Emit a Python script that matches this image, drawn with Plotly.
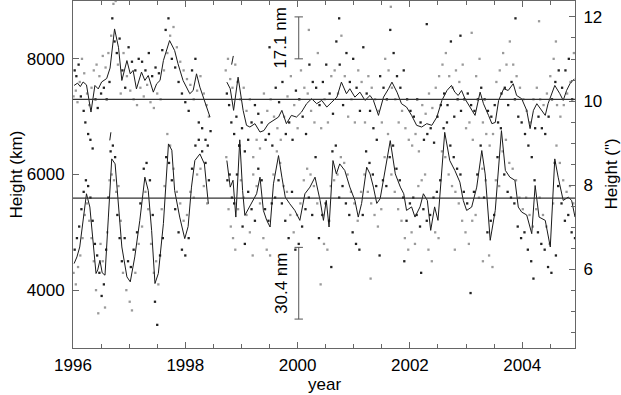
import plotly.graph_objects as go

# ---------------- data ----------------
x_range = [1996, 2004.94]
y_range_km = [3000, 9000]
km_per_arcsec = 727
mean_km = [7300, 5590]
scale_bar_year = 2000.02
scale_bar_km = [[8000, 8725], [3500, 4740]]
scale_bar_labels = ["17.1 nm", "30.4 nm"]

# smoothed curve, upper feature (year, km); None = gap
up_line = [
    (1996.02, 7540), (1996.08, 7580), (1996.13, 7520), (1996.18, 7600), (1996.24, 7550),
    (1996.32, 7080), (1996.39, 7540), (1996.45, 7480), (1996.51, 7600), (1996.6, 7660),
    (1996.66, 7840), (1996.74, 8517), (1996.81, 8200), (1996.87, 7626), (1996.96, 7970),
    (1997.02, 7740), (1997.07, 7800), (1997.13, 7480), (1997.22, 7770), (1997.28, 7626),
    (1997.34, 7712), (1997.43, 7424), (1997.49, 7569), (1997.55, 7626), (1997.61, 7970),
    (1997.72, 8316), (1997.81, 8143), (1997.87, 7914), (1997.96, 7626), (1998.08, 7397),
    (1998.14, 7453), (1998.2, 7741), (1998.26, 7510), (1998.38, 7166), (1998.44, 6993),
    (None, None),
    (1998.825, 7900), (1998.855, 8050),
    (None, None),
    (1998.74, 7597), (1998.8, 7483), (1998.86, 7109), (1998.94, 7683), (1999.03, 7109),
    (1999.09, 6850), (1999.15, 6821), (1999.24, 6879), (1999.33, 6734), (1999.4, 6760),
    (1999.48, 6879), (1999.57, 6936), (1999.66, 6993), (1999.72, 7109), (1999.8, 6879),
    (1999.89, 7022), (1999.98, 6993), (2000.07, 7080), (2000.16, 7224), (2000.25, 7310),
    (2000.34, 7224), (2000.43, 7281), (2000.52, 7166), (2000.61, 7252), (2000.7, 7338),
    (2000.78, 7597), (2000.87, 7397), (2000.93, 7483), (2001.02, 7338), (2001.11, 7424),
    (2001.2, 7281), (2001.29, 7367), (2001.35, 7281), (2001.44, 7022), (2001.53, 7338),
    (2001.62, 7483), (2001.68, 7597), (2001.77, 7424), (2001.85, 7224), (2001.94, 7166),
    (2002.03, 7022), (2002.12, 6850), (2002.21, 6821), (2002.3, 6879), (2002.39, 6850),
    (2002.48, 6993), (2002.57, 7281), (2002.66, 7453), (2002.74, 7540), (2002.8, 7424),
    (2002.86, 7367), (2002.92, 7453), (2002.98, 7310), (2003.07, 7166), (2003.16, 7022),
    (2003.25, 7424), (2003.31, 7224), (2003.4, 7022), (2003.46, 6879), (2003.52, 6900),
    (2003.58, 7281), (2003.67, 7483), (2003.75, 7453), (2003.84, 7569), (2003.9, 7367),
    (2003.99, 7310), (2004.08, 7109), (2004.14, 6793), (2004.2, 7109), (2004.26, 7224),
    (2004.35, 7109), (2004.41, 7022), (2004.46, 7224), (2004.52, 7397), (2004.58, 7540),
    (2004.67, 7397), (2004.73, 7281), (2004.79, 7453), (2004.85, 7569), (2004.93, 7655),
]

# smoothed curve, lower feature (year, km); None = gap
lo_line = [
    (1996.02, 4460), (1996.07, 4575), (1996.12, 4747), (1996.18, 5264), (1996.24, 5667),
    (1996.3, 5437), (1996.36, 4805), (1996.41, 4288), (1996.44, 4350), (1996.48, 4517),
    (1996.52, 4300), (1996.57, 4259), (1996.63, 5264), (1996.69, 6270), (1996.75, 6184),
    (1996.8, 5552), (1996.87, 4747), (1996.96, 4230), (1997.02, 4144), (1997.1, 4575),
    (1997.19, 5207), (1997.28, 5954), (1997.34, 5724), (1997.4, 5034), (1997.46, 4115),
    (1997.52, 4290), (1997.61, 5150), (1997.7, 6529), (1997.76, 6420), (1997.81, 5724),
    (1997.9, 5264), (1997.99, 4891), (1998.05, 5100), (1998.11, 5782), (1998.17, 6241),
    (1998.26, 6356), (1998.34, 6184), (1998.41, 5494),
    (None, None),
    (1996.655, 6590), (1996.675, 6730),
    (None, None),
    (1998.74, 6241), (1998.8, 5782), (1998.85, 5900), (1998.9, 5264), (1998.97, 6600),
    (1999.02, 5724), (1999.06, 5293), (1999.12, 5400), (1999.21, 5552), (1999.27, 5667),
    (1999.33, 5954), (1999.39, 5379), (1999.45, 5207), (1999.51, 5092), (1999.57, 5839),
    (1999.66, 6327), (1999.72, 5954), (1999.78, 5609), (1999.86, 5494), (1999.95, 5380),
    (2000.04, 5207), (2000.13, 5667), (2000.22, 5782), (2000.31, 5954), (2000.4, 5552),
    (2000.46, 5207), (2000.51, 5552), (2000.56, 5092), (2000.63, 6241), (2000.69, 6010),
    (2000.75, 6184), (2000.84, 6070), (2000.93, 5782), (2001.02, 5552), (2001.08, 5264),
    (2001.14, 5500), (2001.23, 6126), (2001.29, 6010), (2001.35, 5782), (2001.41, 5500),
    (2001.47, 5581), (2001.56, 6069), (2001.65, 6586), (2001.74, 6010), (2001.83, 5782),
    (2001.89, 5667), (2001.94, 5379), (2002.03, 5440), (2002.09, 5264), (2002.18, 5440),
    (2002.24, 5667), (2002.31, 5552), (2002.37, 5034), (2002.44, 5440), (2002.5, 5207),
    (2002.62, 6729), (2002.71, 6241), (2002.8, 6070), (2002.89, 5868), (2002.95, 5552),
    (2003.01, 5379), (2003.1, 5437), (2003.19, 5782), (2003.28, 6414), (2003.34, 6010),
    (2003.43, 4862), (2003.52, 5380), (2003.63, 6758), (2003.7, 6070), (2003.78, 5954),
    (2003.87, 5900), (2003.93, 5437), (2003.99, 5350), (2004.08, 5300), (2004.11, 5207),
    (2004.17, 4977), (2004.23, 5810), (2004.3, 5264), (2004.41, 5207), (2004.5, 4747),
    (2004.58, 6270), (2004.64, 5954), (2004.73, 5552), (2004.82, 5609), (2004.88, 5552),
    (2004.94, 5264),
]

# individual measurements, upper feature (year, km)
up_dots = [
    (1996.01, 7350), (1996.03, 7800), (1996.05, 7450), (1996.06, 7700), (1996.08, 7250),
    (1996.1, 7900), (1996.12, 7600), (1996.14, 7350), (1996.16, 8000), (1996.19, 7100),
    (1996.2, 7750), (1996.22, 6900), (1996.25, 7400), (1996.27, 6700), (1996.29, 7200),
    (1996.31, 6600), (1996.33, 7500), (1996.35, 6450), (1996.37, 7800), (1996.4, 7300),
    (1996.42, 7900), (1996.44, 7150), (1996.47, 7700), (1996.5, 7400), (1996.53, 8050),
    (1996.55, 7500), (1996.58, 7850), (1996.6, 7300), (1996.63, 8100), (1996.65, 7600),
    (1996.68, 8400), (1996.7, 8700), (1996.72, 8950), (1996.74, 8300), (1996.76, 9000),
    (1996.78, 8100), (1996.8, 7900), (1996.83, 8350), (1996.85, 7400), (1996.88, 7800),
    (1996.9, 8100), (1996.93, 7500), (1996.96, 7700), (1996.99, 8200), (1997.02, 7450),
    (1997.05, 7950), (1997.08, 7300), (1997.11, 7800), (1997.14, 7200), (1997.17, 8000),
    (1997.2, 7500), (1997.23, 7950), (1997.26, 7350), (1997.29, 7800), (1997.32, 7550),
    (1997.35, 8100), (1997.38, 7250), (1997.41, 7700), (1997.44, 7150), (1997.47, 7850),
    (1997.5, 7400), (1997.53, 7750), (1997.56, 7300), (1997.59, 8150), (1997.62, 7800),
    (1997.65, 8500), (1997.68, 8100), (1997.7, 8700), (1997.73, 8400), (1997.76, 8000),
    (1997.79, 8550), (1997.82, 7850), (1997.85, 8200), (1997.88, 7600), (1997.91, 7950),
    (1997.94, 7400), (1997.97, 7800), (1998.0, 7250), (1998.03, 7650), (1998.06, 7100),
    (1998.09, 7550), (1998.12, 7800), (1998.15, 7300), (1998.18, 8000), (1998.21, 7450),
    (1998.24, 6900), (1998.27, 7700), (1998.3, 6800), (1998.33, 7400), (1998.36, 6600),
    (1998.38, 7200), (1998.4, 6500), (1998.42, 7000), (1998.45, 6750),
    (1998.72, 7800), (1998.74, 7400), (1998.76, 8000), (1998.78, 7200), (1998.8, 7650),
    (1998.82, 6900), (1998.84, 7500), (1998.87, 6700), (1998.89, 7900), (1998.91, 7000),
    (1998.93, 7600), (1998.96, 6500), (1998.98, 7300), (1999.01, 6800), (1999.04, 7500),
    (1999.06, 6400), (1999.09, 7100), (1999.12, 6600), (1999.15, 7300), (1999.18, 6900),
    (1999.21, 6300), (1999.24, 7200), (1999.27, 6600), (1999.3, 7050), (1999.33, 6450),
    (1999.36, 6900), (1999.4, 7400), (1999.43, 6600), (1999.46, 7100), (1999.49, 6700),
    (1999.52, 7300), (1999.55, 6500), (1999.58, 7000), (1999.61, 7500), (1999.64, 6800),
    (1999.67, 7250), (1999.7, 6600), (1999.73, 7600), (1999.76, 7000), (1999.79, 6700),
    (1999.82, 7350), (1999.85, 6900), (1999.88, 7700), (1999.91, 6600), (1999.94, 7200),
    (1999.97, 7450), (2000.0, 6800), (2000.03, 7300), (2000.06, 7800), (2000.09, 7000),
    (2000.12, 7500), (2000.15, 6700), (2000.18, 7400), (2000.21, 7900), (2000.24, 7100),
    (2000.27, 7600), (2000.3, 6900), (2000.33, 7500), (2000.36, 8100), (2000.39, 7200),
    (2000.42, 6800), (2000.45, 7600), (2000.48, 7300), (2000.51, 7900), (2000.54, 6900),
    (2000.57, 7400), (2000.6, 7700), (2000.63, 7050), (2000.66, 7800), (2000.69, 8300),
    (2000.72, 7400), (2000.75, 7900), (2000.78, 8400), (2000.81, 7200), (2000.84, 7700),
    (2000.87, 8100), (2000.9, 7000), (2000.93, 7600), (2000.96, 7300), (2000.99, 8000),
    (2001.02, 6900), (2001.05, 7500), (2001.08, 7800), (2001.11, 7100), (2001.14, 7600),
    (2001.17, 8200), (2001.2, 6900), (2001.23, 7400), (2001.26, 7700), (2001.29, 7100),
    (2001.32, 7500), (2001.35, 6800), (2001.38, 7300), (2001.41, 6600), (2001.44, 7100),
    (2001.47, 7700), (2001.5, 6900), (2001.53, 7500), (2001.56, 8000), (2001.59, 7300),
    (2001.62, 7800), (2001.65, 8500), (2001.68, 7500), (2001.71, 8100), (2001.74, 7300),
    (2001.77, 7700), (2001.8, 6900), (2001.83, 7500), (2001.86, 7100), (2001.89, 7800),
    (2001.92, 6800), (2001.95, 7300), (2001.98, 6600), (2002.01, 7100), (2002.04, 6500),
    (2002.07, 7000), (2002.1, 6700), (2002.13, 7300), (2002.16, 6400), (2002.19, 6900),
    (2002.22, 7200), (2002.25, 6600), (2002.28, 7050), (2002.31, 6700), (2002.34, 7400),
    (2002.37, 6800), (2002.4, 7150), (2002.43, 6550), (2002.46, 7500), (2002.49, 7000),
    (2002.52, 7700), (2002.55, 7200), (2002.58, 7900), (2002.61, 7400), (2002.64, 8100),
    (2002.67, 7200), (2002.7, 7700), (2002.73, 8300), (2002.76, 7500), (2002.79, 7000),
    (2002.82, 7800), (2002.85, 7300), (2002.88, 7600), (2002.91, 7100), (2002.94, 7900),
    (2002.97, 7300), (2003.0, 6800), (2003.03, 7400), (2003.06, 6900), (2003.09, 7200),
    (2003.12, 6600), (2003.15, 7100), (2003.18, 7700), (2003.21, 7300), (2003.24, 8000),
    (2003.27, 7500), (2003.3, 6900), (2003.33, 7300), (2003.36, 6700), (2003.39, 7100),
    (2003.42, 6500), (2003.45, 7000), (2003.48, 6700), (2003.51, 7200), (2003.54, 7600),
    (2003.57, 6900), (2003.6, 7800), (2003.63, 7400), (2003.66, 8100), (2003.69, 7500),
    (2003.72, 7900), (2003.75, 7200), (2003.78, 8300), (2003.81, 7600), (2003.84, 7900),
    (2003.87, 7300), (2003.9, 7700), (2003.93, 7000), (2003.96, 7500), (2003.99, 6900),
    (2004.02, 7300), (2004.05, 6700), (2004.08, 7100), (2004.11, 6500), (2004.14, 6900),
    (2004.17, 6300), (2004.2, 7300), (2004.23, 6800), (2004.26, 7500), (2004.29, 7000),
    (2004.32, 7300), (2004.35, 6800), (2004.38, 7200), (2004.41, 6700), (2004.44, 7400),
    (2004.47, 7000), (2004.5, 7700), (2004.53, 7300), (2004.56, 8000), (2004.59, 7600),
    (2004.62, 7200), (2004.65, 7800), (2004.68, 7000), (2004.71, 7500), (2004.74, 7200),
    (2004.77, 7800), (2004.8, 7400), (2004.83, 8000), (2004.86, 7600), (2004.89, 7300),
    (2004.92, 8100),
    (2000.74, 8700), (2001.66, 8900), (2002.3, 8600), (2003.1, 8450), (2003.88, 8700),
    (2004.3, 8650), (1999.5, 8200), (2000.2, 8500), (2002.9, 8400), (2004.6, 8300),
]

# individual measurements, lower feature (year, km)
lo_dots = [
    (1996.01, 4300), (1996.03, 4700), (1996.05, 4100), (1996.07, 4900), (1996.09, 4400),
    (1996.11, 5100), (1996.13, 4600), (1996.15, 5400), (1996.17, 4900), (1996.19, 5700),
    (1996.21, 5300), (1996.23, 5900), (1996.25, 5500), (1996.27, 5800), (1996.29, 5200),
    (1996.31, 5600), (1996.33, 4900), (1996.35, 5200), (1996.37, 4500), (1996.39, 4800),
    (1996.41, 4000), (1996.43, 4600), (1996.45, 3600), (1996.47, 4300), (1996.49, 4800),
    (1996.51, 3900), (1996.53, 4500), (1996.55, 4100), (1996.57, 3700), (1996.59, 4700),
    (1996.61, 5000), (1996.63, 5600), (1996.65, 5900), (1996.67, 6400), (1996.69, 6000),
    (1996.71, 6500), (1996.73, 5900), (1996.75, 6300), (1996.77, 5700), (1996.79, 5300),
    (1996.81, 5800), (1996.83, 4900), (1996.85, 5200), (1996.87, 4500), (1996.89, 4300),
    (1996.92, 4900), (1996.95, 4000), (1996.98, 4500), (1997.01, 3800), (1997.03, 4400),
    (1997.05, 3650), (1997.08, 4700), (1997.11, 4300), (1997.14, 5000), (1997.17, 4800),
    (1997.2, 5500), (1997.23, 5100), (1997.26, 6100), (1997.29, 5700), (1997.31, 6200),
    (1997.34, 5400), (1997.37, 5900), (1997.39, 4800), (1997.42, 5300), (1997.44, 4300),
    (1997.46, 3800), (1997.48, 4500), (1997.5, 3400), (1997.52, 4100), (1997.55, 4600),
    (1997.58, 5400), (1997.6, 4900), (1997.63, 5800), (1997.66, 6300), (1997.68, 6700),
    (1997.71, 6200), (1997.73, 6500), (1997.76, 5900), (1997.79, 6100), (1997.82, 5400),
    (1997.85, 5700), (1997.88, 5000), (1997.91, 5500), (1997.94, 4700), (1997.97, 5200),
    (1998.0, 4600), (1998.03, 5300), (1998.06, 4900), (1998.09, 5700), (1998.12, 6100),
    (1998.15, 5600), (1998.18, 6500), (1998.21, 6000), (1998.24, 6600), (1998.27, 6100),
    (1998.3, 6400), (1998.33, 5800), (1998.36, 6200), (1998.39, 5500), (1998.42, 5900),
    (1998.73, 6300), (1998.75, 5900), (1998.77, 5400), (1998.79, 6000), (1998.81, 5100),
    (1998.83, 5600), (1998.85, 4900), (1998.87, 5500), (1998.89, 4700), (1998.92, 6000),
    (1998.94, 5400), (1998.96, 6500), (1998.99, 5900), (1999.02, 5100), (1999.04, 5600),
    (1999.06, 4800), (1999.09, 5300), (1999.12, 5700), (1999.15, 5000), (1999.18, 5400),
    (1999.21, 6000), (1999.24, 5200), (1999.27, 5800), (1999.3, 6100), (1999.33, 5500),
    (1999.36, 5900), (1999.39, 4900), (1999.42, 5400), (1999.45, 4700), (1999.48, 5200),
    (1999.51, 4600), (1999.54, 5500), (1999.57, 6000), (1999.6, 5600), (1999.63, 6400),
    (1999.66, 5900), (1999.69, 6200), (1999.72, 5500), (1999.75, 5800), (1999.78, 5200),
    (1999.81, 5700), (1999.84, 4900), (1999.87, 5300), (1999.9, 5700), (1999.93, 5000),
    (1999.96, 4700), (1999.99, 5300), (2000.02, 4800), (2000.05, 5500), (2000.08, 5100),
    (2000.11, 5900), (2000.14, 5400), (2000.17, 6100), (2000.2, 5600), (2000.23, 6000),
    (2000.26, 5300), (2000.29, 5800), (2000.32, 6300), (2000.35, 5500), (2000.38, 4900),
    (2000.41, 4100), (2000.44, 5300), (2000.47, 4800), (2000.5, 5500), (2000.53, 4700),
    (2000.56, 5200), (2000.59, 5800), (2000.62, 6400), (2000.65, 5900), (2000.68, 6500),
    (2000.71, 6000), (2000.74, 5600), (2000.77, 6300), (2000.8, 5800), (2000.83, 6200),
    (2000.86, 5500), (2000.89, 6000), (2000.92, 5300), (2000.95, 5700), (2000.98, 5000),
    (2001.01, 5500), (2001.04, 4800), (2001.07, 5200), (2001.1, 4700), (2001.13, 5700),
    (2001.16, 5300), (2001.19, 6000), (2001.22, 6400), (2001.25, 5700), (2001.28, 6200),
    (2001.31, 5500), (2001.34, 6000), (2001.37, 5300), (2001.4, 5800), (2001.43, 5100),
    (2001.46, 4600), (2001.49, 5400), (2001.52, 5900), (2001.55, 6300), (2001.58, 5800),
    (2001.61, 6700), (2001.64, 6300), (2001.67, 6000), (2001.7, 6500), (2001.73, 5700),
    (2001.76, 6100), (2001.79, 5400), (2001.82, 5900), (2001.85, 5200), (2001.88, 5600),
    (2001.91, 4900), (2001.94, 5200), (2001.97, 4700), (2002.0, 5500), (2002.03, 5000),
    (2002.06, 5600), (2002.09, 4800), (2002.12, 5300), (2002.15, 5800), (2002.18, 5100),
    (2002.21, 5900), (2002.24, 5400), (2002.27, 6000), (2002.3, 5200), (2002.33, 4700),
    (2002.36, 5300), (2002.39, 4500), (2002.42, 5600), (2002.45, 5000), (2002.48, 5700),
    (2002.51, 4900), (2002.54, 5900), (2002.57, 6400), (2002.6, 6800), (2002.63, 6300),
    (2002.66, 6900), (2002.69, 6000), (2002.72, 6500), (2002.75, 5800), (2002.78, 6300),
    (2002.81, 5700), (2002.84, 6100), (2002.87, 5500), (2002.9, 6000), (2002.93, 5200),
    (2002.96, 5700), (2002.99, 5000), (2003.02, 5500), (2003.05, 4800), (2003.08, 3950),
    (2003.11, 5200), (2003.14, 5700), (2003.17, 5300), (2003.2, 6000), (2003.23, 5600),
    (2003.26, 6500), (2003.29, 6100), (2003.32, 5600), (2003.35, 5900), (2003.38, 5000),
    (2003.41, 4600), (2003.44, 5200), (2003.47, 4400), (2003.5, 5300), (2003.53, 5900),
    (2003.56, 6300), (2003.59, 5800), (2003.62, 6800), (2003.65, 6400), (2003.68, 6000),
    (2003.71, 6600), (2003.74, 5700), (2003.77, 6200), (2003.8, 5600), (2003.83, 6100),
    (2003.86, 5500), (2003.89, 5900), (2003.92, 5100), (2003.95, 5600), (2003.98, 4900),
    (2004.01, 5400), (2004.04, 5000), (2004.07, 5600), (2004.1, 4700), (2004.13, 5300),
    (2004.16, 4500), (2004.19, 5100), (2004.22, 5900), (2004.25, 5400), (2004.28, 5000),
    (2004.31, 5600), (2004.34, 4800), (2004.37, 5300), (2004.4, 4700), (2004.43, 5100),
    (2004.46, 4400), (2004.49, 4800), (2004.52, 4300), (2004.55, 5500), (2004.58, 6200),
    (2004.61, 6500), (2004.64, 5800), (2004.67, 6200), (2004.7, 5500), (2004.73, 5900),
    (2004.76, 5200), (2004.79, 5700), (2004.82, 5300), (2004.85, 5800), (2004.88, 5000),
    (2004.91, 5500), (2004.94, 4900),
    (1999.7, 4300), (2000.6, 4400), (2001.3, 4200), (2002.2, 4300), (2003.3, 4500),
    (2004.2, 4200), (1999.2, 4600), (2001.9, 4500), (2002.8, 4700), (2004.6, 4600),
]

# ---------------- figure ----------------
FONT = "Liberation Sans, Arial, Helvetica, sans-serif"
FS = 17


def split(pairs):
    return [p[0] for p in pairs], [p[1] for p in pairs]


fig = go.Figure()

for dots in (up_dots, lo_dots):
    xs, ys = split(dots)
    fig.add_trace(go.Scatter(x=xs[0::2], y=ys[0::2], mode="markers",
                             marker=dict(size=2.3, color="#9a9a9a", symbol="square"),
                             hoverinfo="skip", showlegend=False))
    fig.add_trace(go.Scatter(x=xs[1::2], y=ys[1::2], mode="markers",
                             marker=dict(size=2.3, color="#222222", symbol="square"),
                             hoverinfo="skip", showlegend=False))

for line in (up_line, lo_line):
    xs, ys = split(line)
    fig.add_trace(go.Scatter(x=xs, y=ys, mode="lines",
                             line=dict(color="#1a1a1a", width=1),
                             connectgaps=False, hoverinfo="skip", showlegend=False))

# invisible trace on the arcsec axis so it is drawn
fig.add_trace(go.Scatter(x=[x_range[0]], y=[mean_km[0] / km_per_arcsec], yaxis="y2",
                         mode="markers", marker=dict(size=1, opacity=0),
                         hoverinfo="skip", showlegend=False))

# mean lines
for m in mean_km:
    fig.add_shape(type="line", xref="paper", x0=0, x1=1, yref="y", y0=m, y1=m,
                  line=dict(color="#333333", width=1.2))

# scale bars
cap = 0.075
for (k0, k1), lab in zip(scale_bar_km, scale_bar_labels):
    fig.add_shape(type="line", x0=scale_bar_year, x1=scale_bar_year, y0=k0, y1=k1,
                  line=dict(color="#555555", width=1))
    for k in (k0, k1):
        fig.add_shape(type="line", x0=scale_bar_year - cap, x1=scale_bar_year + cap,
                      y0=k, y1=k, line=dict(color="#555555", width=1))
    fig.add_annotation(x=scale_bar_year, y=(k0 + k1) / 2, text=lab, showarrow=False,
                       textangle=-90, xshift=-18, xanchor="center", yanchor="middle",
                       font=dict(size=FS, color="black", family=FONT))

axis_common = dict(showgrid=False, zeroline=False, showline=True, linecolor="#666666",
                   linewidth=1, ticks="inside", tickcolor="#666666", ticklen=6,
                   tickfont=dict(size=FS, color="black", family=FONT))

fig.update_layout(
    width=621, height=395,
    margin=dict(l=73, r=46, t=1, b=47),
    paper_bgcolor="white", plot_bgcolor="white",
    showlegend=False,
    font=dict(family=FONT, size=FS, color="black"),
    xaxis=dict(range=x_range, dtick=2, tick0=1996, mirror="ticks",
               minor=dict(dtick=0.5, ticklen=4, ticks="inside", tickcolor="#666666"),
               ticklabelstandoff=2, **axis_common),
    yaxis=dict(range=y_range_km, tickvals=[4000, 6000, 8000], ticklabelstandoff=4,
               **axis_common),
    yaxis2=dict(range=[y_range_km[0] / km_per_arcsec, y_range_km[1] / km_per_arcsec],
                overlaying="y", side="right", dtick=2, tick0=0,
                minor=dict(dtick=0.5, ticklen=4, ticks="inside", tickcolor="#666666"),
                ticklabelstandoff=4, **axis_common),
)

fig.add_annotation(xref="paper", yref="paper", x=0, y=0.5, xshift=-57, text="Height (km)",
                   textangle=-90, xanchor="center", yanchor="middle", showarrow=False,
                   font=dict(size=FS, family=FONT))
fig.add_annotation(xref="paper", yref="paper", x=1, y=0.5, xshift=36, text='Height (")',
                   textangle=-90, xanchor="center", yanchor="middle", showarrow=False,
                   font=dict(size=FS, family=FONT))
fig.add_annotation(xref="paper", yref="paper", x=0.5, y=0, yshift=-36, text="year",
                   xanchor="center", yanchor="middle", showarrow=False,
                   font=dict(size=FS, family=FONT))

fig.write_html("out.html", config={"displayModeBar": False},
               post_script="document.body.style.margin='0';document.body.style.overflow='hidden';")
